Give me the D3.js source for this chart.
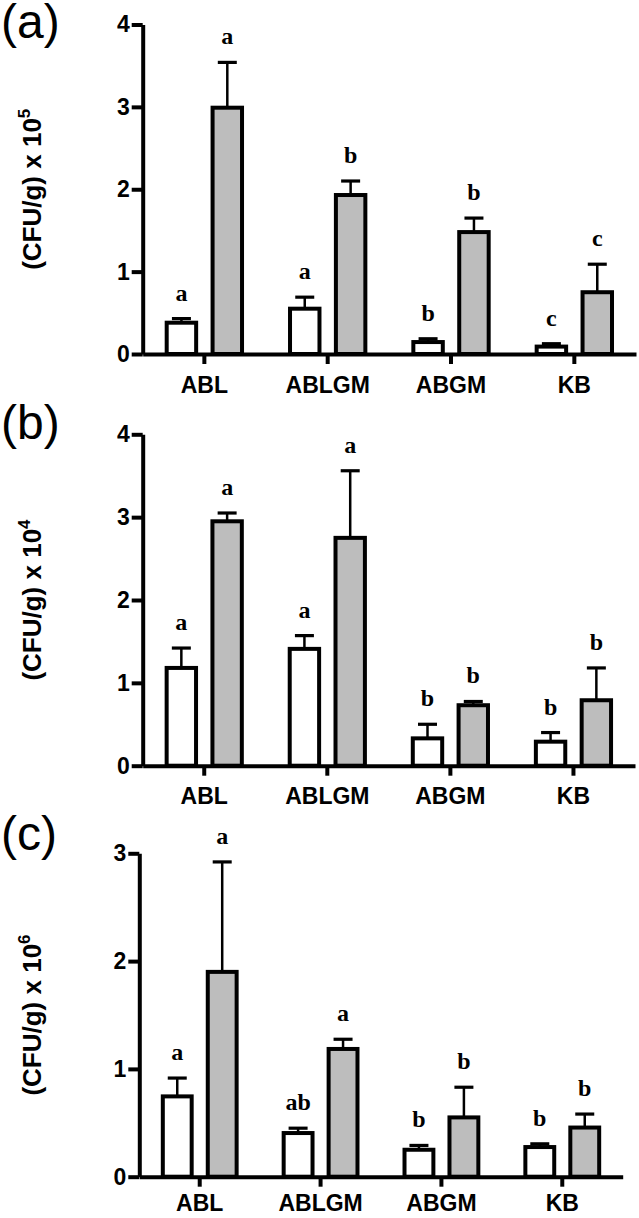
<!DOCTYPE html>
<html><head><meta charset="utf-8">
<script src="https://cdn.jsdelivr.net/npm/d3@7"></script>
<style>body{margin:0;background:#fff}</style>
</head><body>
<svg id="chart" width="639" height="1218" xmlns="http://www.w3.org/2000/svg"></svg>
<script>
// ---------- data ----------
const categories = ["ABL", "ABLGM", "ABGM", "KB"];
const panelLabels = ["(a)", "(b)", "(c)"];
const exponents = ["5", "4", "6"];

const yTicksA = [0, 1, 2, 3, 4];
const whiteA = [0.38, 0.55, 0.145, 0.09];
const whiteErrA = [0.05, 0.14, 0.04, 0.035];
const grayA = [2.99, 1.93, 1.48, 0.75];
const grayErrA = [0.55, 0.17, 0.17, 0.34];
const whiteLettersA = ["a", "a", "b", "c"];
const grayLettersA = ["a", "b", "b", "c"];

const yTicksB = [0, 1, 2, 3, 4];
const whiteB = [1.18, 1.41, 0.33, 0.29];
const whiteErrB = [0.24, 0.16, 0.17, 0.11];
const grayB = [2.95, 2.75, 0.73, 0.79];
const grayErrB = [0.10, 0.81, 0.045, 0.39];
const whiteLettersB = ["a", "a", "b", "b"];
const grayLettersB = ["a", "a", "b", "b"];

const yTicksC = [0, 1, 2, 3];
const whiteC = [0.745, 0.405, 0.25, 0.275];
const whiteErrC = [0.17, 0.045, 0.04, 0.03];
const grayC = [1.90, 1.185, 0.55, 0.456];
const grayErrC = [1.02, 0.09, 0.28, 0.125];
const whiteLettersC = ["a", "ab", "b", "b"];
const grayLettersC = ["a", "a", "b", "b"];

// ---------- layout ----------
const panels = [
  {ticks: yTicksA, white: whiteA, whiteErr: whiteErrA, gray: grayA, grayErr: grayErrA,
   wl: whiteLettersA, gl: grayLettersA, left: 142.7, right: 636, top: 24.5, bottom: 354, labelY: 38, xpad: 13},
  {ticks: yTicksB, white: whiteB, whiteErr: whiteErrB, gray: grayB, grayErr: grayErrB,
   wl: whiteLettersB, gl: grayLettersB, left: 142.7, right: 635, top: 434.3, bottom: 765.7, labelY: 439, xpad: 12},
  {ticks: yTicksC, white: whiteC, whiteErr: whiteErrC, gray: grayC, grayErr: grayErrC,
   wl: whiteLettersC, gl: grayLettersC, left: 139.3, right: 622.7, top: 853.3, bottom: 1176.7, labelY: 850, xpad: 8}
];

const svg = d3.select("#chart");
const sans = "'Liberation Sans', Arial, sans-serif";
const serif = "'Liberation Serif', 'Times New Roman', serif";
const grayFill = "#bdbdbd";
const lw = 4;

panels.forEach((p, i) => {
  const g = svg.append("g");
  const x = d3.scaleBand().domain(categories).range([p.left, p.right]).padding(0);
  const sub = d3.scaleBand().domain(["white", "gray"]).range([0, x.bandwidth()])
    .paddingInner(0.358).paddingOuter(0.523);
  const y = d3.scaleLinear().domain([0, d3.max(p.ticks)]).range([p.bottom, p.top]);

  const series = [
    {key: "white", vals: p.white, errs: p.whiteErr, letters: p.wl, fill: "#ffffff"},
    {key: "gray", vals: p.gray, errs: p.grayErr, letters: p.gl, fill: grayFill}
  ];

  series.forEach(s => {
    const data = categories.map((c, j) => ({c, v: s.vals[j], e: s.errs[j], l: s.letters[j]}));
    const cx = d => x(d.c) + sub(s.key) + sub.bandwidth() / 2;
    // error bars
    g.selectAll(null).data(data).enter().append("line")
      .attr("x1", cx).attr("x2", cx)
      .attr("y1", d => y(d.v)).attr("y2", d => y(d.v + d.e))
      .attr("stroke", "#000").attr("stroke-width", 2.5);
    g.selectAll(null).data(data).enter().append("line")
      .attr("x1", d => cx(d) - 9.5).attr("x2", d => cx(d) + 9.5)
      .attr("y1", d => y(d.v + d.e)).attr("y2", d => y(d.v + d.e))
      .attr("stroke", "#000").attr("stroke-width", 3.2);
    // bars
    g.selectAll(null).data(data).enter().append("rect")
      .attr("x", d => x(d.c) + sub(s.key))
      .attr("width", sub.bandwidth())
      .attr("y", d => y(d.v))
      .attr("height", d => p.bottom - y(d.v))
      .attr("fill", s.fill).attr("stroke", "#000").attr("stroke-width", lw);
    // significance letters
    g.selectAll(null).data(data).enter().append("text")
      .attr("x", cx).attr("y", d => y(d.v + d.e) - 18)
      .attr("text-anchor", "middle")
      .attr("font-family", serif).attr("font-weight", "bold").attr("font-size", 24)
      .text(d => d.l);
  });

  // x axis
  const xa = g.append("g").attr("transform", `translate(0,${p.bottom})`)
    .call(d3.axisBottom(x).tickSize(10).tickSizeOuter(0).tickPadding(p.xpad));
  xa.select(".domain").attr("stroke-width", lw);
  xa.selectAll(".tick line").attr("stroke-width", lw);
  xa.selectAll(".tick text").attr("font-family", sans).attr("font-weight", "bold").attr("font-size", 23);

  // y axis
  const ya = g.append("g").attr("transform", `translate(${p.left},0)`)
    .call(d3.axisLeft(y).tickValues(p.ticks).tickFormat(d3.format("d")).tickSize(11).tickSizeOuter(0).tickPadding(2));
  ya.select(".domain").attr("stroke-width", lw);
  ya.selectAll(".tick line").attr("stroke-width", lw);
  ya.selectAll(".tick text").attr("font-family", sans).attr("font-weight", "bold").attr("font-size", 23);

  // y axis title
  const cy = (p.top + p.bottom) / 2;
  const t = g.append("text")
    .attr("transform", `translate(41,${cy}) rotate(-90)`)
    .attr("text-anchor", "middle")
    .attr("font-family", sans).attr("font-weight", "bold").attr("font-size", 26);
  t.append("tspan").text("(CFU/g) x 10");
  t.append("tspan").attr("font-size", 17).attr("dy", -11).text(exponents[i]);

  // panel label
  g.append("text").attr("x", 1).attr("y", p.labelY)
    .attr("font-family", sans).attr("font-size", 48)
    .text(panelLabels[i]);
});
</script>
</body></html>
